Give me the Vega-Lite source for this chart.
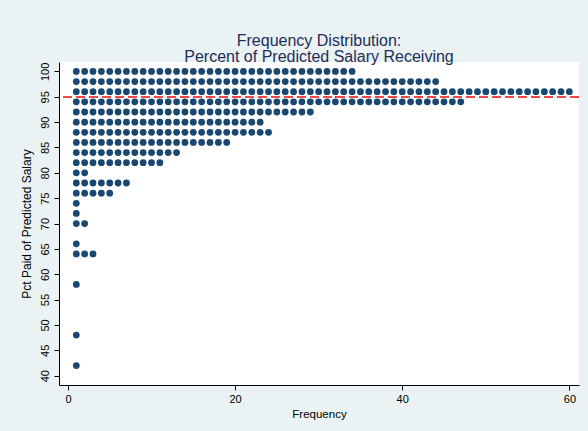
{
  "$schema": "https://vega.github.io/schema/vega-lite/v6.json",
  "autosize": {"type": "none"},
  "width": 520,
  "height": 323,
  "padding": {"left": 59, "top": 62, "right": 9, "bottom": 46},
  "background": "#EAF2F3",
  "config": {
    "font": "Liberation Sans",
    "view": {"fill": "white", "stroke": null},
    "axis": {
      "domainColor": "#000000",
      "domainWidth": 1,
      "tickColor": "#000000",
      "tickSize": 5,
      "labelColor": "#000000",
      "labelFont": "Liberation Sans",
      "labelFontSize": 11,
      "titleFont": "Liberation Sans",
      "titleFontSize": 11.5,
      "titleFontWeight": "normal",
      "titleColor": "#000000",
      "grid": false
    },
    "axisY": {
      "labelAngle": -90,
      "labelAlign": "center",
      "labelBaseline": "bottom",
      "labelOverlap": false,
      "labelBound": false,
      "labelPadding": 4,
      "titleFontSize": 12,
      "titlePadding": 6
    }
  },
  "title": {
    "text": ["Frequency Distribution:", "Percent of Predicted Salary Receiving"],
    "font": "Liberation Sans",
    "fontSize": 16,
    "fontWeight": "normal",
    "color": "#1E2E58",
    "lineHeight": 16,
    "offset": -3
  },
  "data": {
    "values": [
      {"pct":100},{"pct":100},{"pct":100},{"pct":100},{"pct":100},{"pct":100},{"pct":100},{"pct":100},{"pct":100},{"pct":100},
      {"pct":100},{"pct":100},{"pct":100},{"pct":100},{"pct":100},{"pct":100},{"pct":100},{"pct":100},{"pct":100},{"pct":100},
      {"pct":100},{"pct":100},{"pct":100},{"pct":100},{"pct":100},{"pct":100},{"pct":100},{"pct":100},{"pct":100},{"pct":100},
      {"pct":100},{"pct":100},{"pct":100},{"pct":100},
      {"pct":98},{"pct":98},{"pct":98},{"pct":98},{"pct":98},{"pct":98},{"pct":98},{"pct":98},{"pct":98},{"pct":98},
      {"pct":98},{"pct":98},{"pct":98},{"pct":98},{"pct":98},{"pct":98},{"pct":98},{"pct":98},{"pct":98},{"pct":98},
      {"pct":98},{"pct":98},{"pct":98},{"pct":98},{"pct":98},{"pct":98},{"pct":98},{"pct":98},{"pct":98},{"pct":98},
      {"pct":98},{"pct":98},{"pct":98},{"pct":98},{"pct":98},{"pct":98},{"pct":98},{"pct":98},{"pct":98},{"pct":98},
      {"pct":98},{"pct":98},{"pct":98},{"pct":98},
      {"pct":96},{"pct":96},{"pct":96},{"pct":96},{"pct":96},{"pct":96},{"pct":96},{"pct":96},{"pct":96},{"pct":96},
      {"pct":96},{"pct":96},{"pct":96},{"pct":96},{"pct":96},{"pct":96},{"pct":96},{"pct":96},{"pct":96},{"pct":96},
      {"pct":96},{"pct":96},{"pct":96},{"pct":96},{"pct":96},{"pct":96},{"pct":96},{"pct":96},{"pct":96},{"pct":96},
      {"pct":96},{"pct":96},{"pct":96},{"pct":96},{"pct":96},{"pct":96},{"pct":96},{"pct":96},{"pct":96},{"pct":96},
      {"pct":96},{"pct":96},{"pct":96},{"pct":96},{"pct":96},{"pct":96},{"pct":96},{"pct":96},{"pct":96},{"pct":96},
      {"pct":96},{"pct":96},{"pct":96},{"pct":96},{"pct":96},{"pct":96},{"pct":96},{"pct":96},{"pct":96},{"pct":96},
      {"pct":94},{"pct":94},{"pct":94},{"pct":94},{"pct":94},{"pct":94},{"pct":94},{"pct":94},{"pct":94},{"pct":94},
      {"pct":94},{"pct":94},{"pct":94},{"pct":94},{"pct":94},{"pct":94},{"pct":94},{"pct":94},{"pct":94},{"pct":94},
      {"pct":94},{"pct":94},{"pct":94},{"pct":94},{"pct":94},{"pct":94},{"pct":94},{"pct":94},{"pct":94},{"pct":94},
      {"pct":94},{"pct":94},{"pct":94},{"pct":94},{"pct":94},{"pct":94},{"pct":94},{"pct":94},{"pct":94},{"pct":94},
      {"pct":94},{"pct":94},{"pct":94},{"pct":94},{"pct":94},{"pct":94},{"pct":94},
      {"pct":92},{"pct":92},{"pct":92},{"pct":92},{"pct":92},{"pct":92},{"pct":92},{"pct":92},{"pct":92},{"pct":92},
      {"pct":92},{"pct":92},{"pct":92},{"pct":92},{"pct":92},{"pct":92},{"pct":92},{"pct":92},{"pct":92},{"pct":92},
      {"pct":92},{"pct":92},{"pct":92},{"pct":92},{"pct":92},{"pct":92},{"pct":92},{"pct":92},{"pct":92},
      {"pct":90},{"pct":90},{"pct":90},{"pct":90},{"pct":90},{"pct":90},{"pct":90},{"pct":90},{"pct":90},{"pct":90},
      {"pct":90},{"pct":90},{"pct":90},{"pct":90},{"pct":90},{"pct":90},{"pct":90},{"pct":90},{"pct":90},{"pct":90},
      {"pct":90},{"pct":90},{"pct":90},
      {"pct":88},{"pct":88},{"pct":88},{"pct":88},{"pct":88},{"pct":88},{"pct":88},{"pct":88},{"pct":88},{"pct":88},
      {"pct":88},{"pct":88},{"pct":88},{"pct":88},{"pct":88},{"pct":88},{"pct":88},{"pct":88},{"pct":88},{"pct":88},
      {"pct":88},{"pct":88},{"pct":88},{"pct":88},
      {"pct":86},{"pct":86},{"pct":86},{"pct":86},{"pct":86},{"pct":86},{"pct":86},{"pct":86},{"pct":86},{"pct":86},
      {"pct":86},{"pct":86},{"pct":86},{"pct":86},{"pct":86},{"pct":86},{"pct":86},{"pct":86},{"pct":86},
      {"pct":84},{"pct":84},{"pct":84},{"pct":84},{"pct":84},{"pct":84},{"pct":84},{"pct":84},{"pct":84},{"pct":84},
      {"pct":84},{"pct":84},{"pct":84},
      {"pct":82},{"pct":82},{"pct":82},{"pct":82},{"pct":82},{"pct":82},{"pct":82},{"pct":82},{"pct":82},{"pct":82},
      {"pct":82},
      {"pct":80},{"pct":80},
      {"pct":78},{"pct":78},{"pct":78},{"pct":78},{"pct":78},{"pct":78},{"pct":78},
      {"pct":76},{"pct":76},{"pct":76},{"pct":76},{"pct":76},
      {"pct":74},
      {"pct":72},
      {"pct":70},{"pct":70},
      {"pct":66},
      {"pct":64},{"pct":64},{"pct":64},
      {"pct":58},
      {"pct":48},
      {"pct":42}
    ]
  },
  "transform": [
    {"window": [{"op": "row_number", "as": "freq"}], "groupby": ["pct"]}
  ],
  "layer": [
    {
      "mark": {"type": "point", "filled": true, "opacity": 1, "color": "#1A476F", "size": 46},
      "encoding": {
        "x": {
          "field": "freq",
          "type": "quantitative",
          "scale": {"domain": [-1.07, 61.15], "nice": false, "zero": false},
          "axis": {"values": [0, 20, 40, 60], "title": "Frequency", "labelPadding": 3, "titlePadding": 4}
        },
        "y": {
          "field": "pct",
          "type": "quantitative",
          "scale": {"domain": [38.16, 101.86], "nice": false, "zero": false},
          "axis": {
            "values": [40, 45, 50, 55, 60, 65, 70, 75, 80, 85, 90, 95, 100],
            "title": "Pct Paid of Predicted Salary"
          }
        }
      }
    },
    {
      "mark": {"type": "rule", "color": "#F04848", "strokeWidth": 1, "strokeDash": [9, 4]},
      "encoding": {
        "y": {
          "datum": 95,
          "type": "quantitative",
          "axis": {
            "values": [40, 45, 50, 55, 60, 65, 70, 75, 80, 85, 90, 95, 100],
            "title": "Pct Paid of Predicted Salary"
          }
        }
      }
    }
  ]
}
